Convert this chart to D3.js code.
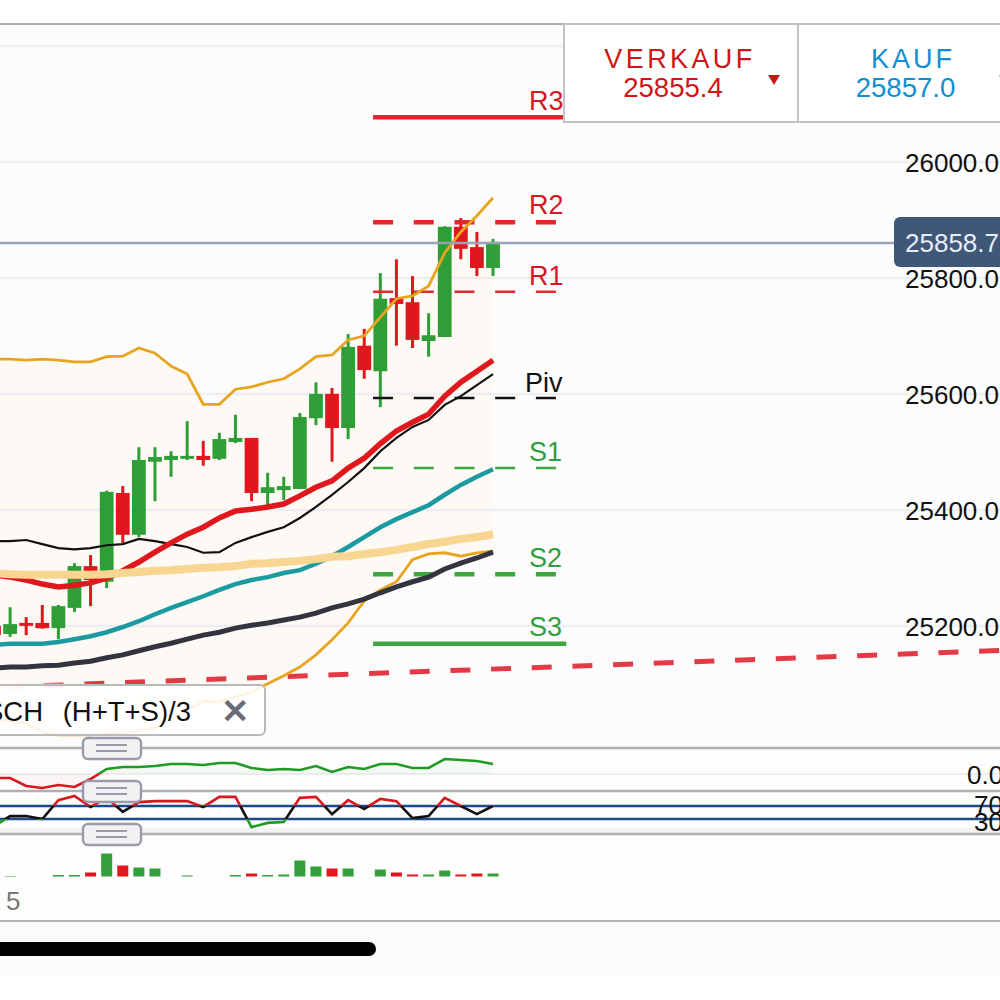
<!DOCTYPE html>
<html>
  <head>
    <meta charset='utf-8' />
    <title>Chart</title>
    <script src="https://d3js.org/d3.v7.min.js"></script>
    <style>
      html, body { margin: 0; padding: 0; background: #fff; overflow: hidden; }
      svg { display: block; }
      text { font-family: "Liberation Sans", Arial, sans-serif; }
      .domain { display: none; }
    </style>
  </head>
  <body>
    <div id="graphic"></div>
    <script>
      // candles, first one sits just off the left edge
      const opens = [25202,25188,25207,25207,25198,25233,25305,25278,25431,25359,25485,25488,25490,25495,25490,25519,25526,25431,25436,25438,25560,25602,25543,25685,25641,25767,25760,25693,25700,25890,25855,25819];
      const highs = [25205,25234,25217,25238,25238,25310,25324,25435,25443,25510,25510,25503,25555,25521,25535,25566,25526,25466,25459,25569,25622,25612,25705,25714,25810,25834,25805,25741,25891,25905,25881,25869];
      const lows = [25180,25183,25186,25197,25179,25226,25236,25267,25345,25355,25417,25459,25488,25478,25488,25517,25417,25410,25419,25438,25548,25485,25524,25628,25579,25685,25681,25666,25700,25834,25805,25805];
      const closes = [25186,25205,25202,25198,25236,25305,25281,25433,25359,25488,25493,25495,25495,25488,25524,25526,25431,25441,25443,25562,25602,25543,25683,25643,25766,25757,25695,25703,25890,25852,25819,25864];

      // overlays
      const upperBand = [25662,25662,25660,25662,25660,25657,25657,25666,25667,25681,25672,25650,25636,25584,25584,25610,25614,25622,25628,25645,25666,25669,25695,25702,25734,25766,25771,25788,25845,25881,25909,25940];
      const lowerBand = [25040,25038,25034,25019,25014,25014,25014,25016,25017,25021,25026,25040,25057,25072,25071,25079,25088,25102,25116,25131,25152,25178,25207,25245,25264,25278,25316,25326,25328,25322,25328,25331];
      const redAvg = [25290,25286,25281,25274,25269,25272,25276,25284,25297,25312,25329,25345,25360,25372,25388,25400,25403,25407,25412,25426,25441,25452,25474,25491,25516,25538,25553,25567,25598,25622,25641,25660];
      const blackAvg = [25348,25348,25350,25343,25336,25334,25336,25341,25343,25352,25348,25343,25338,25328,25329,25345,25355,25364,25372,25388,25407,25428,25450,25474,25503,25526,25545,25557,25583,25598,25617,25636];
      const tealAvg = [25169,25171,25171,25171,25174,25179,25184,25191,25200,25210,25222,25233,25243,25253,25264,25274,25281,25286,25293,25298,25309,25322,25338,25355,25372,25386,25398,25410,25428,25445,25459,25472];
      const darkAvg = [25129,25131,25131,25133,25134,25138,25141,25147,25152,25159,25166,25172,25179,25186,25191,25198,25203,25207,25212,25217,25224,25233,25240,25248,25259,25269,25278,25286,25300,25310,25319,25329];
      const wheatAvg = [25293,25291,25290,25290,25290,25290,25290,25291,25293,25295,25297,25298,25300,25302,25303,25305,25309,25310,25312,25314,25317,25321,25322,25326,25329,25333,25338,25343,25347,25352,25355,25360];

      // pivots
      const pivotNames = ["R3","R2","R1","Piv","S1","S2","S3"];
      const pivotValues = [26079,25898,25778,25595,25474,25291,25171];
      const trendIdx = [0,63];
      const trendValues = [25096,25160];

      // lower panels
      const oscValues = [-4,-4,-12,-14,-11,-13,-5,5,7,7,8,10,10,9,11,11,6,4,5,4,8,2,7,5,10,10,6,6,15,14,13,10];
      const rsiValues = [8,39,39,30,88,101,67,95,52,82,85,85,85,67,98,98,5,18,21,95,98,45,88,61,92,85,33,39,95,70,45,70];
      const volumes = [0,2,0,0,6,6,16,92,44,36,32,0,4,0,0,6,12,6,8,64,40,32,32,0,28,16,8,8,24,8,12,12];

      const priceTicks = [26200,26000,25800,25600,25400,25200];
      const labelTicks = [26000,25800,25600,25400,25200];
      const rsiTicks = [70,30];
      const lastPrice = 25862;
      const lastPriceLabel = "25858.7";

      const RED = "#e0181e", GREEN = "#2f9e36";

      const svg = d3.select("#graphic").append("svg")
        .attr("width", 1000)
        .attr("height", 1000);

      const x = d3.scaleLinear().domain([0, 31]).range([-6, 493]);
      const y = d3.scaleLinear().domain([25200, 26000]).range([627, 163]);
      const yOsc = d3.scaleLinear().domain([0, 10]).range([774, 764]);
      const yRsi = d3.scaleLinear().domain([30, 70]).range([819, 806]);
      const yVol = d3.scaleLinear().domain([0, 100]).range([876.5, 851.5]);

      const idx = d3.range(opens.length);
      const defs = svg.append("defs");

      // backgrounds
      svg.append("rect").attr("y", 24).attr("width", 1000).attr("height", 724).attr("fill", "#fcfcfd");
      svg.append("rect").attr("y", 748).attr("width", 1000).attr("height", 173).attr("fill", "#fdfdfd");
      svg.append("rect").attr("y", 921).attr("width", 1000).attr("height", 54).attr("fill", "#fbfbfb");
      svg.append("rect").attr("y", 828).attr("width", 1000).attr("height", 5).attr("fill", "#f3f3f4");

      // bollinger fill
      svg.append("path")
        .attr("d", d3.area().x(i => x(i)).y0(i => y(lowerBand[i])).y1(i => y(upperBand[i]))(idx))
        .attr("fill", "#fdf9f4");

      // grid
      svg.append("g")
        .attr("transform", "translate(1000,-1.5)")
        .call(d3.axisLeft(y).tickValues(priceTicks).tickSize(1000).tickFormat(""))
        .selectAll("line").attr("stroke", "#eeeef2").attr("stroke-width", 2.5);

      // candles
      const candles = svg.append("g").selectAll("g").data(idx).enter().append("g");
      candles.append("line")
        .attr("x1", i => x(i)).attr("x2", i => x(i))
        .attr("y1", i => y(highs[i])).attr("y2", i => y(lows[i]))
        .attr("stroke", i => closes[i] >= opens[i] ? GREEN : RED)
        .attr("stroke-width", 3);
      candles.append("rect")
        .attr("x", i => x(i) - 6.9)
        .attr("width", 13.8)
        .attr("y", i => y(Math.max(opens[i], closes[i])))
        .attr("height", i => Math.abs(y(opens[i]) - y(closes[i])))
        .attr("fill", i => closes[i] >= opens[i] ? GREEN : RED);

      // pivots
      const pivotStyle = {
        R3: { c: "#e0282e", w: 4.5, d: null },
        R2: { c: "#e0282e", w: 4.5, d: "20 20.7" },
        R1: { c: "#e0282e", w: 2.5, d: "20 20.7" },
        Piv: { c: "#111", w: 2.5, d: "20 20.7" },
        S1: { c: "#3da641", w: 2.5, d: "20 20.7" },
        S2: { c: "#3da641", w: 4.5, d: "20 20.7" },
        S3: { c: "#3da641", w: 4.5, d: null }
      };
      const pivotLabelY = { R3: 101, R2: 205, R1: 276, Piv: 383, S1: 452, S2: 558, S3: 627 };
      pivotNames.forEach((n, i) => {
        const s = pivotStyle[n];
        svg.append("line")
          .attr("x1", x(23.55)).attr("x2", s.d ? x(34.95) : x(35.55))
          .attr("y1", y(pivotValues[i])).attr("y2", y(pivotValues[i]))
          .attr("stroke", s.c).attr("stroke-width", s.w)
          .attr("stroke-dasharray", s.d);
        svg.append("text")
          .attr("x", n === "Piv" ? 525 : 529)
          .attr("y", pivotLabelY[n])
          .attr("dy", "0.35em")
          .attr("font-size", 27)
          .attr("fill", n === "Piv" ? "#111" : (n[0] === "R" ? "#d2181e" : "#2f9e3c"))
          .text(n);
      });

      // trend line, fades out behind the left edge
      const trendGrad = defs.append("linearGradient").attr("id", "trendFade")
        .attr("gradientUnits", "userSpaceOnUse")
        .attr("x1", 0).attr("x2", 90).attr("y1", 0).attr("y2", 0);
      trendGrad.append("stop").attr("offset", 0).attr("stop-color", "#e0303c").attr("stop-opacity", 0.2);
      trendGrad.append("stop").attr("offset", 1).attr("stop-color", "#e0303c").attr("stop-opacity", 0.95);
      svg.append("line")
        .attr("x1", x(trendIdx[0])).attr("x2", x(trendIdx[1]))
        .attr("y1", y(trendValues[0])).attr("y2", y(trendValues[1]))
        .attr("stroke", "url(#trendFade)")
        .attr("stroke-width", 5)
        .attr("stroke-dasharray", "20 20.7")
        .attr("stroke-dashoffset", 31.7);

      // overlays
      const priceLine = d3.line().x((d, i) => x(i)).y(d => y(d));
      [[upperBand, "#e8a41e", 2.8], [lowerBand, "#e8a41e", 2.8], [blackAvg, "#111", 2.2],
       [tealAvg, "#1b9aa1", 4.5], [darkAvg, "#33343f", 5], [redAvg, "#e0181e", 5.5], [wheatAvg, "#f9d592", 8]]
        .forEach(s => {
          svg.append("path").attr("d", priceLine(s[0]))
            .attr("fill", "none").attr("stroke", s[1]).attr("stroke-width", s[2]);
        });

      // last price line and tag
      svg.append("line").attr("x1", 0).attr("x2", 894)
        .attr("y1", y(lastPrice)).attr("y2", y(lastPrice))
        .attr("stroke", "#98a2b8").attr("stroke-width", 2.4);

      // price labels
      const priceAxis = svg.append("g")
        .attr("transform", "translate(905,0)")
        .call(d3.axisRight(y).tickValues(labelTicks).tickSize(0).tickPadding(0).tickFormat(d3.format(".1f")));
      priceAxis.selectAll("text").attr("font-size", 26).attr("fill", "#111")
        .style("font-family", '"Liberation Sans", Arial, sans-serif');

      svg.append("rect").attr("x", 894).attr("y", 217).attr("width", 120).attr("height", 50)
        .attr("rx", 6).attr("fill", "#3f5878");
      svg.append("text").attr("x", 905).attr("y", 243).attr("dy", "0.35em")
        .attr("font-size", 26).attr("fill", "#e8eefa").text(lastPriceLabel);

      // legend box
      svg.append("rect").attr("x", -20).attr("y", 685).attr("width", 285).attr("height", 50)
        .attr("rx", 5).attr("fill", "#fff").attr("fill-opacity", 0.88)
        .attr("stroke", "#b9b9be").attr("stroke-width", 2);
      svg.append("text").attr("x", 43).attr("y", 711).attr("dy", "0.35em")
        .attr("text-anchor", "end").attr("font-size", 27.5).attr("fill", "#111")
        .text("TYPISCH");
      svg.append("text").attr("x", 191).attr("y", 711).attr("dy", "0.35em")
        .attr("text-anchor", "end").attr("font-size", 27.5).attr("fill", "#111")
        .text("(H+T+S)/3");
      svg.append("text").attr("x", 235).attr("y", 711).attr("dy", "0.35em")
        .attr("text-anchor", "middle").attr("font-size", 34).attr("font-weight", "bold")
        .attr("fill", "#6a6a78").text("✕");

      // oscillator panel
      const split = (id, stops) => {
        const g = defs.append("linearGradient").attr("id", id)
          .attr("gradientUnits", "userSpaceOnUse")
          .attr("x1", 0).attr("x2", 0).attr("y1", 748).attr("y2", 835);
        stops.forEach(s => {
          const o = (s[0] - 748) / 87;
          g.append("stop").attr("offset", o).attr("stop-color", s[1]);
          g.append("stop").attr("offset", o).attr("stop-color", s[2]);
        });
      };
      split("oscStroke", [[yOsc(0), "#1f9a22", "#d8181e"]]);
      split("rsiStroke", [[yRsi(70), "#d8181e", "#111"], [yRsi(30), "#111", "#1f9a22"]]);

      svg.append("line").attr("x1", 0).attr("x2", 1000)
        .attr("y1", yOsc(0)).attr("y2", yOsc(0))
        .attr("stroke", "#eeeeef").attr("stroke-width", 2);
      svg.append("path")
        .attr("d", d3.area().x((d, i) => x(i)).y0(yOsc(0)).y1(d => yOsc(d))(oscValues))
        .attr("fill", "url(#oscStroke)").attr("fill-opacity", 0.04);
      svg.append("path")
        .attr("d", d3.line().x((d, i) => x(i)).y(d => yOsc(d))(oscValues))
        .attr("fill", "none").attr("stroke", "url(#oscStroke)").attr("stroke-width", 2.6);
      svg.append("text").attr("x", 967).attr("y", yOsc(0) + 1).attr("dy", "0.35em")
        .attr("font-size", 26).attr("fill", "#111").text("0.00");

      // rsi panel
      rsiTicks.forEach(t => {
        svg.append("line").attr("x1", 0).attr("x2", 1000)
          .attr("y1", yRsi(t)).attr("y2", yRsi(t))
          .attr("stroke", "#1c4a8a").attr("stroke-width", 2.5);
      });
      svg.append("path")
        .attr("d", d3.line().x((d, i) => x(i)).y(d => yRsi(d))(rsiValues))
        .attr("fill", "none").attr("stroke", "url(#rsiStroke)").attr("stroke-width", 2.6);
      rsiTicks.forEach(t => {
        svg.append("text").attr("x", 974).attr("y", yRsi(t) + (t === 70 ? -1 : 3)).attr("dy", "0.35em")
          .attr("font-size", 26).attr("fill", "#111").text(t + ".0");
      });

      // volume
      svg.append("g").selectAll("rect").data(idx.filter(i => volumes[i] > 0)).enter().append("rect")
        .attr("x", i => x(i) - 5.5)
        .attr("width", 11)
        .attr("y", i => yVol(volumes[i]))
        .attr("height", i => yVol(0) - yVol(volumes[i]))
        .attr("fill", i => closes[i] >= opens[i] ? "#33a03a" : RED);

      // panel dividers and handles
      [748, 791, 834].forEach(py => {
        svg.append("line").attr("x1", 0).attr("x2", 1000).attr("y1", py).attr("y2", py)
          .attr("stroke", "#b0b0b2").attr("stroke-width", 2.5);
        svg.append("rect").attr("x", 83).attr("y", py - 10).attr("width", 58).attr("height", 21)
          .attr("rx", 5).attr("fill", "#f2f2f5").attr("stroke", "#9a9aa8").attr("stroke-width", 2.4);
        [-3, 3].forEach(o => {
          svg.append("line").attr("x1", 96).attr("x2", 127).attr("y1", py + o).attr("y2", py + o)
            .attr("stroke", "#9a9aa8").attr("stroke-width", 2);
        });
      });

      // time axis
      svg.append("text").attr("x", 6).attr("y", 901).attr("dy", "0.35em")
        .attr("font-size", 26).attr("fill", "#777").text("5");
      svg.append("line").attr("x1", 0).attr("x2", 1000).attr("y1", 921).attr("y2", 921)
        .attr("stroke", "#b4b4b4").attr("stroke-width", 2);
      svg.append("rect").attr("x", -20).attr("y", 942).attr("width", 396).attr("height", 14)
        .attr("rx", 7).attr("fill", "#000");

      // top header and quote boxes
      svg.append("line").attr("x1", 0).attr("x2", 1000).attr("y1", 24).attr("y2", 24)
        .attr("stroke", "#b0b0b2").attr("stroke-width", 2);
      svg.append("rect").attr("x", 564).attr("y", 24).attr("width", 440).attr("height", 98)
        .attr("fill", "#fff").attr("stroke", "#c2c2c4").attr("stroke-width", 2);
      svg.append("line").attr("x1", 798).attr("x2", 798).attr("y1", 24).attr("y2", 122)
        .attr("stroke", "#c2c2c4").attr("stroke-width", 2);

      const quotes = [
        { name: "VERKAUF", price: "25855.4", color: "#cf1515", nx: 680, px: 673, sp: 3.4, tri: 774 },
        { name: "KAUF", price: "25857.0", color: "#0f8fcf", nx: 913, px: 905.5, sp: 3, tri: 1005 }
      ];
      quotes.forEach(q => {
        svg.append("text").attr("x", q.nx).attr("y", 68).attr("text-anchor", "middle")
          .attr("font-size", 27).attr("letter-spacing", q.sp).attr("fill", q.color).text(q.name);
        svg.append("text").attr("x", q.px).attr("y", 96.5).attr("text-anchor", "middle")
          .attr("font-size", 27.6).attr("fill", q.color).text(q.price);
        svg.append("path")
          .attr("d", d3.line()([[q.tri - 6, 75], [q.tri + 6, 75], [q.tri, 85]]) + "Z")
          .attr("fill", q.color);
      });
    </script>
  </body>
</html>
